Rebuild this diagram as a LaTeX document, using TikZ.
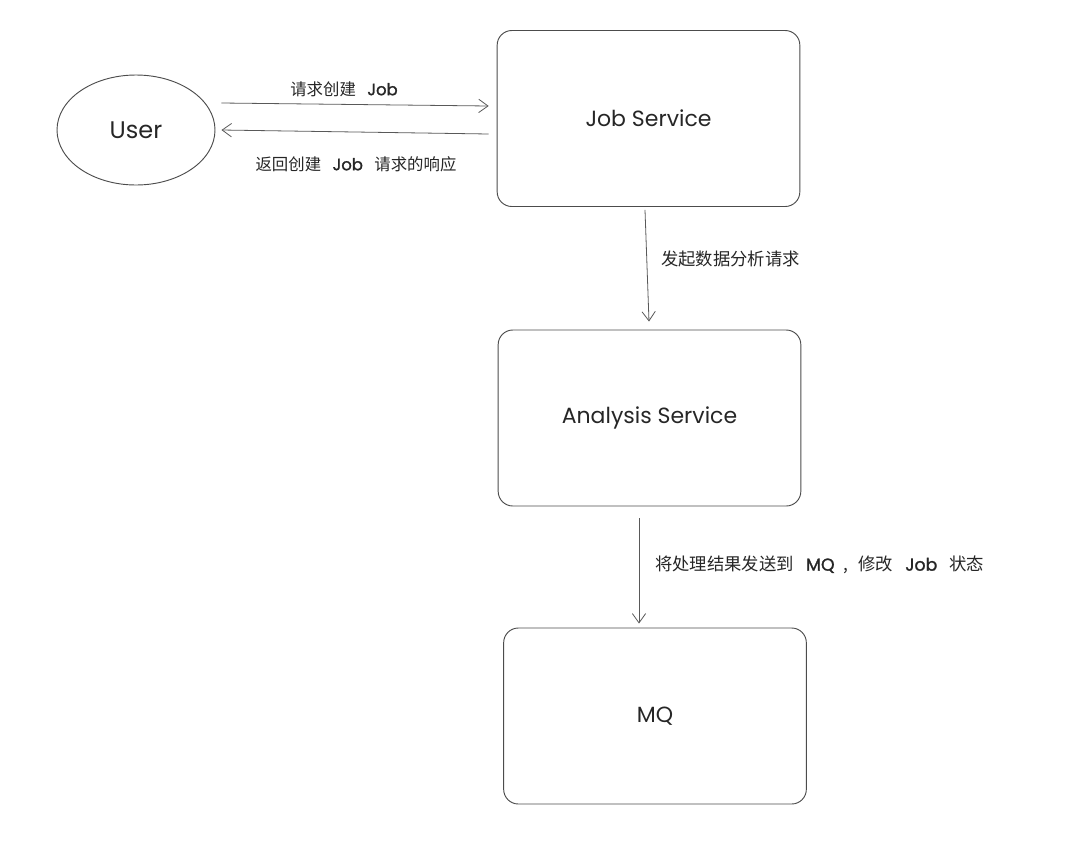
\documentclass[tikz,border=0pt]{standalone}
\usepackage{fontspec}
\setmainfont{Noto Sans CJK SC}
\newfontfamily\hand{Poppins}
\newfontfamily\handb{Poppins}[FakeBold=1.5]
\usetikzlibrary{calc,shapes.geometric,arrows.meta}
\newcommand\lt[1]{{\handb #1}}
\newcommand\gp{\hspace{0.7em}}
\tikzset{
	box/.style={draw=black!70, line width=0.7pt, rounded corners=11pt, inner sep=0pt, minimum width=227pt, minimum height=132pt, font=\hand\fontsize{16.5}{18}\selectfont, text=black!85},
	userell/.style={draw=black!70, line width=0.7pt, ellipse, inner sep=0pt, minimum width=118.5pt, minimum height=82.5pt, font=\hand\fontsize{18}{20}\selectfont, text=black!85},
	arr/.style={draw=black!65, line width=0.6pt, -{Straight Barb[length=7pt,width=10pt]}},
	lbl/.style={font=\fontsize{12.3}{14}\selectfont, text=black!85, inner sep=0pt},
	biglbl/.style={lbl, font=\fontsize{13}{15}\selectfont}
}

\begin{document}
\begin{tikzpicture}[x=0.75pt, y=-0.75pt]
		%%%%% START %%%%%
		\useasboundingbox (0, 0) rectangle (1078, 861);
		
		\node[userell] (user) at (136, 130) {User};
		\node[box] (jobsvc) at (648.5, 118.5) {Job Service};
		\node[box] (analysis) at (649.5, 418) {Analysis Service};
		\node[box] (mq) at (655, 716) {MQ};
		
		\draw[arr] ($(user.east)+(6, -27)$) -- ($(jobsvc.west)+(-8, -12.5)$);
		\node[lbl] (req) at (344, 89) {请求创建\gp{}\lt{Job}};
		
		\draw[arr] ($(jobsvc.west)+(-8, 15.5)$) -- ($(user.east)+(6, 0)$);
		\node[lbl] (resp) at (356, 164) {返回创建\gp{}\lt{Job}\gp{}请求的响应};
		
		\draw[arr] ($(jobsvc.south)+(-3.5, 3)$) -- ($(analysis.north)+(-0.5, -8)$);
		\node[biglbl, anchor=west] (ana) at (661, 259) {发起数据分析请求};
		
		\draw[arr] ($(analysis.south)+(-10.5, 12)$) -- ($(mq.north)+(-16, -4)$);
		\node[biglbl, anchor=west] (send) at (655, 565) {将处理结果发送到\gp{}\lt{MQ}\hspace{0.5em},\hspace{0.6em}修改\gp{}\lt{Job}\gp{}状态};
		
		%%%%% END %%%%%
	\end{tikzpicture}
\end{document}
